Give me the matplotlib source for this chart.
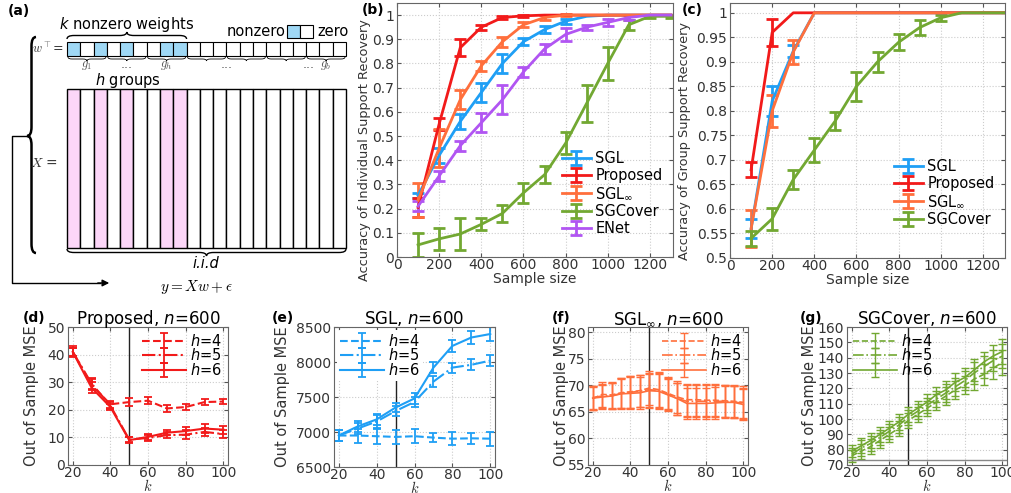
import numpy as np
import matplotlib
matplotlib.use('Agg')
import matplotlib.pyplot as plt
from matplotlib.patches import Rectangle, PathPatch
from matplotlib.path import Path
from matplotlib.ticker import FuncFormatter

# ---------------- data ----------------
# (a) diagram
n_cols = 21
nonzero_idx = [0, 2, 4, 7, 8]
group_size = 3
group_labels = [r'$g_1$', '...', r'$g_h$', '...', '...', r'$g_b$']
group_label_pos = [0, 1, 2, 3.5, 5.55, 6]

# (b) individual support recovery
n_b = [100, 200, 300, 400, 500, 600, 700, 800, 900, 1000, 1100, 1200, 1300]
sgl_b = [0.255, 0.42, 0.56, 0.68, 0.80, 0.89, 0.94, 0.975, 0.995, 1, 1, 1, 1]
sgl_b_err = [0.01, 0.03, 0.03, 0.04, 0.04, 0.015, 0.015, 0.01, 0, 0, 0, 0, 0]
prop_b = [0.205, 0.55, 0.865, 0.95, 0.99, 0.997, 1, 1, 1, 1, 1, 1, 1]
prop_b_err = [0.04, 0.025, 0.035, 0.01, 0.005, 0.003, 0, 0, 0, 0, 0, 0, 0]
inf_b = [0.235, 0.45, 0.65, 0.79, 0.89, 0.96, 0.99, 1.0, 1, 1, 1, 1, 1]
inf_b_err = [0.07, 0.08, 0.04, 0.02, 0.02, 0.01, 0.01, 0.005, 0, 0, 0, 0, 0]
cov_b = [0.05, 0.075, 0.095, 0.135, 0.18, 0.265, 0.34, 0.47, 0.635, 0.80, 0.96, 0.995, 0.995]
cov_b_err = [0.05, 0.045, 0.065, 0.025, 0.035, 0.04, 0.035, 0.045, 0.075, 0.07, 0.02, 0.005, 0.005]
enet_b = [0.21, 0.335, 0.46, 0.555, 0.65, 0.765, 0.86, 0.92, 0.95, 0.97, 0.99, 1, 1]
enet_b_err = [0.02, 0.02, 0.02, 0.04, 0.06, 0.02, 0.02, 0.025, 0.01, 0.015, 0.01, 0, 0]

# (c) group support recovery
n_c = [100, 200, 300, 400, 500, 600, 700, 800, 900, 1000, 1100, 1200, 1300]
sgl_c = [0.56, 0.82, 0.922, 1, 1, 1, 1, 1, 1, 1, 1, 1, 1]
sgl_c_err = [0.02, 0.03, 0.013, 0, 0, 0, 0, 0, 0, 0, 0, 0, 0]
prop_c = [0.68, 0.96, 1, 1, 1, 1, 1, 1, 1, 1, 1, 1, 1]
prop_c_err = [0.015, 0.028, 0, 0, 0, 0, 0, 0, 0, 0, 0, 0, 0]
inf_c = [0.56, 0.80, 0.92, 1, 1, 1, 1, 1, 1, 1, 1, 1, 1]
inf_c_err = [0.037, 0.033, 0.025, 0, 0, 0, 0, 0, 0, 0, 0, 0, 0]
cov_c = [0.54, 0.58, 0.66, 0.72, 0.78, 0.85, 0.90, 0.94, 0.97, 0.99, 1, 1, 1]
cov_c_err = [0.015, 0.022, 0.02, 0.025, 0.018, 0.03, 0.02, 0.016, 0.016, 0.006, 0, 0, 0]

# (d) Proposed
k_d = [20, 30, 40, 50, 60, 70, 80, 90, 100]
d_h4 = [41, 29, 22, 22.8, 23.3, 20.5, 21, 22.8, 23]
d_h4_err = [1.5, 2, 1.2, 1.5, 1.2, 1.2, 1, 1, 1]
d_h5 = [41, 29.5, 21.5, 9.2, 9.8, 10.8, 11, 12, 11.2]
d_h5_err = [1.5, 2, 1.2, 1, 1, 1, 1.5, 1.5, 1.5]
d_h6 = [41, 28, 21, 9, 10.2, 11.7, 12.3, 13.2, 12.8]
d_h6_err = [2, 2, 1.2, 1, 1, 1, 1.5, 1.5, 1.5]

# (e) SGL
k_e = [20, 30, 40, 50, 60, 70, 80, 90, 100]
e_h4 = [6950, 6950, 6940, 6930, 6940, 6920, 6905, 6910, 6905]
e_h4_err = [80, 100, 110, 100, 100, 60, 90, 80, 100]
e_h5 = [6950, 7050, 7150, 7300, 7430, 7720, 7920, 7960, 8020]
e_h5_err = [80, 80, 90, 70, 70, 80, 70, 80, 80]
e_h6 = [6950, 7080, 7180, 7350, 7480, 7920, 8230, 8350, 8400]
e_h6_err = [80, 80, 80, 60, 80, 80, 80, 90, 100]

# (f) SGL_inf
k_f = [20, 25, 30, 35, 40, 45, 50, 55, 60, 65, 70, 75, 80, 85, 90, 95, 100]
f_h4 = [67.5, 68.3, 68.2, 68.6, 68.8, 69.0, 69.5, 69.2, 68.5, 67.8, 67.3, 67.3, 67.2, 67.2, 67.1, 67.0, 66.8]
f_h5 = [67.7, 68.0, 68.0, 68.5, 68.7, 68.9, 69.2, 69.0, 68.3, 67.5, 67.0, 67.0, 67.0, 67.0, 67.0, 66.9, 66.6]
f_h6 = [67.6, 67.8, 68.0, 68.4, 68.5, 68.6, 69.0, 68.9, 68.2, 67.5, 66.6, 66.6, 66.6, 66.7, 66.8, 66.8, 66.4]
f_err = [2.2, 2.3, 2.5, 2.8, 3, 3, 3.2, 3.3, 3, 3, 3, 3, 3, 3, 3, 3, 3]

# (g) SGCover
k_g = [20, 25, 30, 35, 40, 45, 50, 55, 60, 65, 70, 75, 80, 85, 90, 95, 100]
g_h4 = [76, 79, 82, 86, 90, 94, 99, 103, 107, 111, 115, 119, 122, 126, 129, 133, 137]
g_h5 = [77, 81, 84, 88, 92, 96, 101, 105, 109, 113, 117, 121, 125, 130, 134, 138, 141]
g_h6 = [79, 82.5, 86, 90, 94, 98, 103, 107, 111, 116, 119, 124, 127, 132, 137, 141, 144]
g_err = [4, 5, 5, 5, 5, 5, 5, 5, 5, 5, 6, 6, 6, 7, 7, 7, 8]

c_sgl = '#1f9ff5'
c_prop = '#f21a1a'
c_inf = '#ff6f3c'
c_cov = '#72a832'
c_enet = '#b155f2'
c_wblue = '#9fd8f5'
c_pink = '#fcd6f8'

plt.rcParams['font.family'] = ['DejaVu Sans']
plt.rcParams['mathtext.fontset'] = 'dejavusans'

fig = plt.figure(figsize=(10.11, 4.93), dpi=100)


def brace(ax, a0, a1, base, h, tip=None, vertical=False, lw=1.0):
    # curly brace from a0 to a1 along one axis, bulge of size h
    if tip is None:
        tip = (a0 + a1) / 2
    q = min(abs(h), (a1 - a0) / 6)
    m = base + h / 2
    pts = [(a0, base), (a0, m), (a0 + q, m), (tip - q, m), (tip, m), (tip, base + h),
           (tip, m), (tip + q, m), (a1 - q, m), (a1, m), (a1, base)]
    codes = [Path.MOVETO, Path.CURVE3, Path.CURVE3, Path.LINETO, Path.CURVE3, Path.CURVE3,
             Path.CURVE3, Path.CURVE3, Path.LINETO, Path.CURVE3, Path.CURVE3]
    if vertical:
        pts = [(p[1], p[0]) for p in pts]
    ax.add_patch(PathPatch(Path(pts, codes), fill=False, lw=lw, color='k'))


# ---------------- (a) diagram ----------------
ax0 = fig.add_axes([0, 0, 1, 1])
ax0.set_xlim(0, 1011)
ax0.set_ylim(493, 0)
ax0.axis('off')
fig.text(8, 493 - 11, '(a)', transform=None, fontsize=10, fontweight='bold', va='center')

x0 = 67
cw = (346 - 67) / n_cols
for i in range(n_cols):
    col = c_wblue if i in nonzero_idx else 'white'
    ax0.add_patch(Rectangle((x0 + i * cw, 42), cw, 14, facecolor=col, edgecolor='k', lw=0.8))
    colx = c_pink if i in nonzero_idx else 'white'
    ax0.add_patch(Rectangle((x0 + i * cw, 89), cw, 159, facecolor=colx, edgecolor='k', lw=1.0))

brace(ax0, x0, x0 + 9 * cw, 39, -7)
ax0.text(127, 25, r'$k$ nonzero weights', ha='center', va='center', fontsize=10.5)
ax0.text(286, 31, 'nonzero', ha='right', va='center', fontsize=10.5)
ax0.add_patch(Rectangle((287, 25), 13, 13, facecolor=c_wblue, edgecolor='k', lw=0.8))
ax0.add_patch(Rectangle((300, 25), 13, 13, facecolor='white', edgecolor='k', lw=0.8))
ax0.text(317, 31, 'zero', ha='left', va='center', fontsize=10.5)
ax0.text(64, 49, r'$w^{\top}$=', ha='right', va='center', fontsize=9, color='#333333',
         math_fontfamily='cm')

n_groups = n_cols // group_size
for g in range(n_groups):
    brace(ax0, x0 + g * group_size * cw + 1, x0 + (g + 1) * group_size * cw - 1, 57, 4, lw=0.6)
for lab, pos in zip(group_labels, group_label_pos):
    ax0.text(x0 + (pos + 0.5) * group_size * cw, 65, lab, ha='center', va='center',
             fontsize=9, color='#555555', math_fontfamily='cm')
ax0.text(128, 80, r'$h$ groups', ha='center', va='center', fontsize=10.5)

brace(ax0, x0, 346, 249, 7)
ax0.text(206, 264, 'i.i.d', ha='center', va='center', fontsize=10.5, style='italic')
ax0.text(58, 163, r'$X$ =', ha='right', va='center', fontsize=10, color='#333333',
         math_fontfamily='cm')
brace(ax0, 37, 253, 36, -9, tip=136, vertical=True, lw=1.8)
ax0.plot([26, 12, 12, 100], [136, 136, 283, 283], color='k', lw=1)
ax0.annotate('', xy=(112, 283), xytext=(95, 283),
             arrowprops=dict(arrowstyle='-|>', color='k', lw=1, mutation_scale=10))
ax0.text(197, 287, r'$y = Xw + \epsilon$', ha='center', va='center', fontsize=11,
         math_fontfamily='cm')


def style_ax(ax):
    ax.tick_params(direction='in', top=True, right=True, colors='#555555',
                   labelcolor='#333333', length=3, labelsize=10, pad=2)
    ax.tick_params(axis='x', pad=1)
    for s in ax.spines.values():
        s.set_color('#666666')
    ax.grid(True, linestyle=':', color='#cccccc', lw=0.8)
    ax.set_axisbelow(True)


def nz(err):
    err = np.array(err, dtype=float)
    return np.where(err > 0, err, np.nan)


fmt = FuncFormatter(lambda v, p: '%g' % round(v, 3))

# ---------------- (b) ----------------
axb = fig.add_axes([0.3927, 0.4787, 0.2730, 0.5152])
style_ax(axb)
for y, e, c, lab in [(sgl_b, sgl_b_err, c_sgl, 'SGL'), (prop_b, prop_b_err, c_prop, 'Proposed'),
                     (inf_b, inf_b_err, c_inf, r'SGL$_\infty$'), (cov_b, cov_b_err, c_cov, 'SGCover'),
                     (enet_b, enet_b_err, c_enet, 'ENet')]:
    axb.errorbar(n_b, y, yerr=nz(e), color=c, lw=2, elinewidth=2, capsize=4, capthick=2, label=lab)
axb.set_xlim(0, 1310)
axb.set_ylim(0, 1.05)
axb.set_xticks(range(0, 1400, 200))
axb.set_yticks(np.arange(0, 1.01, 0.1))
axb.yaxis.set_major_formatter(fmt)
axb.set_xlabel('Sample size', fontsize=10, color='#333333', va='top')
axb.xaxis.set_label_coords(0.5, -0.06)
axb.set_ylabel('Accuracy of Individual Support Recovery', fontsize=9.3, color='#333333')
axb.yaxis.set_label_coords(-0.096, 0.42)
axb.legend(loc='lower right', bbox_to_anchor=(1.01, 0.03), frameon=False, fontsize=10.5,
           handlelength=2.0, labelspacing=0.15, handletextpad=0.3)
fig.text(362, 493 - 10, '(b)', transform=None, fontsize=10, fontweight='bold', va='center')

# ---------------- (c) ----------------
axc = fig.add_axes([0.7221, 0.4767, 0.2720, 0.5172])
style_ax(axc)
for y, e, c, lab in [(sgl_c, sgl_c_err, c_sgl, 'SGL'), (prop_c, prop_c_err, c_prop, 'Proposed'),
                     (inf_c, inf_c_err, c_inf, r'SGL$_\infty$'), (cov_c, cov_c_err, c_cov, 'SGCover')]:
    axc.errorbar(n_c, y, yerr=nz(e), color=c, lw=2, elinewidth=2, capsize=4, capthick=2, label=lab)
axc.set_xlim(0, 1305)
axc.set_ylim(0.5, 1.02)
axc.set_xticks(range(0, 1400, 200))
axc.set_yticks(np.arange(0.5, 1.001, 0.05))
axc.yaxis.set_major_formatter(fmt)
axc.set_xlabel('Sample size', fontsize=10, color='#333333', va='top')
axc.xaxis.set_label_coords(0.5, -0.057)
axc.set_ylabel('Accuracy of Group Support Recovery', fontsize=9.3, color='#333333')
axc.yaxis.set_label_coords(-0.142, 0.46)
axc.legend(loc='lower right', bbox_to_anchor=(1.01, 0.07), frameon=False, fontsize=10.5,
           handlelength=2.0, labelspacing=0.15, handletextpad=0.3)
fig.text(682, 493 - 10, '(c)', transform=None, fontsize=10, fontweight='bold', va='center')


# ---------------- bottom row ----------------
def bottom_panel(rect, k, series, errs, color, title, tag, tagx, ylim, yticks, ylabx,
                 legloc, legbg=False, thin=False):
    ax = fig.add_axes(rect)
    style_ax(ax)
    lw = 1.0 if thin else 1.3
    for y, e, ls, lab in zip(series, errs, ['--', '-.', '-'], [r'$h$=4', r'$h$=5', r'$h$=6']):
        ax.errorbar(k, y, yerr=e, color=color, ls=ls, lw=lw + 0.2, elinewidth=lw,
                    capsize=3, capthick=lw, label=lab)
    ax.axvline(50, color='#222222', lw=1, zorder=1.5)
    ax.set_xlim(17.5, 102.5)
    ax.set_ylim(*ylim)
    ax.set_xticks([20, 40, 60, 80, 100])
    ax.set_yticks(yticks)
    ax.tick_params(labelsize=10)
    ax.tick_params(axis='x', pad=0.5)
    ax.set_xlabel(r'$k$', fontsize=10.5, math_fontfamily='cm', color='#333333', va='center')
    ax.xaxis.set_label_coords(0.5, -0.15)
    ax.set_ylabel('Out of Sample MSE', fontsize=10.5, color='#333333')
    ax.yaxis.set_label_coords(ylabx, 0.5)
    ax.set_title(title, fontsize=12, pad=2)
    leg = ax.legend(loc=legloc, frameon=legbg, fontsize=10.5, handlelength=3.0,
                    labelspacing=-0.1, handletextpad=0.3, borderaxespad=0.2, borderpad=0.2)
    if legbg:
        leg.get_frame().set_edgecolor('none')
        leg.get_frame().set_facecolor('white')
        leg.get_frame().set_alpha(1)
    fig.text(tagx, 493 - 318, tag, transform=None, fontsize=10, fontweight='bold', va='center')
    return ax


bottom_panel([0.0673, 0.0568, 0.1583, 0.2799], k_d, [d_h4, d_h5, d_h6],
             [d_h4_err, d_h5_err, d_h6_err], c_prop, r'Proposed, $n$=600', '(d)', 23,
             (0, 50), range(0, 51, 10), -0.18, 'upper right')
bottom_panel([0.3304, 0.0527, 0.1592, 0.2840], k_e, [e_h4, e_h5, e_h6],
             [e_h4_err, e_h5_err, e_h6_err], c_sgl, r'SGL, $n$=600', '(e)', 272,
             (6500, 8500), range(6500, 8501, 500), -0.273, 'upper left', legbg=True)
bottom_panel([0.5816, 0.0568, 0.1583, 0.2799], k_f, [f_h4, f_h5, f_h6],
             [f_err, f_err, f_err], c_inf, r'SGL$_\infty$, $n$=600', '(f)', 552,
             (55, 81), range(55, 81, 5), -0.119, 'upper right', thin=True)
axg = bottom_panel([0.8378, 0.0568, 0.1583, 0.2799], k_g, [g_h4, g_h5, g_h6],
                   [g_err, g_err, g_err], c_cov, r'SGCover, $n$=600', '(g)', 800,
                   (70, 160), range(70, 161, 10), -0.1875, 'upper left', thin=True)
axg.axhline(73, color='#888888', lw=1)

fig.savefig('out.png', dpi=100)
